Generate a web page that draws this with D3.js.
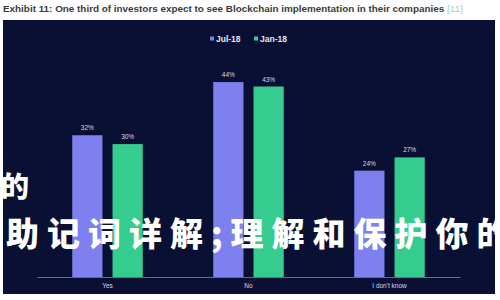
<!DOCTYPE html>
<html>
<head>
<meta charset="utf-8">
<style>
  body { margin: 0; background: #ffffff; }
  svg { display: block; }
</style>
</head>
<body>
<svg width="500" height="300"></svg>
<script src="https://cdn.jsdelivr.net/npm/d3@7"></script>
<script>
var categories = ["Yes", "No", "I don't know"];
var series = ["Jul-18", "Jan-18"];
var jul18 = [32, 44, 24];
var jan18 = [30, 43, 27];
var colors = ["#7f80f0", "#35cc8f"];

var svg = d3.select("svg");

// title strip
var title = svg.append("text")
    .attr("x", 3).attr("y", 12)
    .style("font-family", "Liberation Sans, Arial, sans-serif")
    .style("font-size", "9.9px")
    .style("font-weight", "bold")
    .style("fill", "#3a3a3a");
title.append("tspan").text("Exhibit 11: One third of investors expect to see Blockchain implementation in their companies ");
title.append("tspan").style("font-weight", "normal").style("fill", "#8fd9c9").text("[11]");

// dark panel
svg.append("rect")
    .attr("x", 3).attr("y", 20)
    .attr("width", 492).attr("height", 274)
    .style("fill", "#0a1034");

var x0 = d3.scaleBand().domain(categories).range([37, 460]);
var x1 = d3.scaleBand().domain(series)
    .range([x0.bandwidth() * 0.25, x0.bandwidth() * 0.75])
    .paddingInner(0.25);
var y = d3.scaleLinear().domain([0, 50]).range([277, 55.5]);

var rows = categories.map(function(c, i) {
  return { cat: c, vals: [jul18[i], jan18[i]] };
});

var groups = svg.selectAll(".grp").data(rows).enter().append("g")
    .classed("grp", true)
    .attr("transform", function(d) { return "translate(" + x0(d.cat) + ",0)"; });

var cells = groups.selectAll(".bar").data(function(d) {
  return d.vals.map(function(v, j) { return { s: series[j], v: v, j: j }; });
});
cells.enter().append("rect").classed("bar", true)
    .attr("x", function(d) { return x1(d.s); })
    .attr("y", function(d) { return y(d.v); })
    .attr("width", x1.bandwidth())
    .attr("height", function(d) { return y(0) - y(d.v); })
    .style("fill", function(d) { return colors[d.j]; });

groups.selectAll(".lbl").data(function(d) {
  return d.vals.map(function(v, j) { return { s: series[j], v: v }; });
}).enter().append("text").classed("lbl", true)
    .attr("x", function(d) { return x1(d.s) + x1.bandwidth() / 2; })
    .attr("y", function(d) { return y(d.v) - 5; })
    .attr("text-anchor", "middle")
    .style("font-family", "Liberation Sans, Arial, sans-serif")
    .style("font-size", "6.5px")
    .style("fill", "#d8dae6")
    .text(function(d) { return d.v + "%"; });

// axis
var axis = svg.append("g")
    .attr("transform", "translate(0," + y(0) + ")")
    .call(d3.axisBottom(x0).tickSize(0).tickPadding(6));
axis.select(".domain").style("stroke", "#7d829c").style("stroke-width", 0.8);
axis.selectAll("text")
    .style("font-family", "Liberation Sans, Arial, sans-serif")
    .style("font-size", "6.5px")
    .style("fill", "#d8dae6");

// legend
var legend = svg.selectAll(".leg").data(series).enter().append("g")
    .classed("leg", true)
    .attr("transform", function(d, i) { return "translate(" + (210 + i * 44) + ",39)"; });
legend.append("rect")
    .attr("x", 0).attr("y", -2.5).attr("width", 4).attr("height", 4)
    .style("fill", function(d, i) { return colors[i]; });
legend.append("text")
    .attr("x", 6).attr("y", 2.8)
    .style("font-family", "Liberation Sans, Arial, sans-serif")
    .style("font-size", "8.5px")
    .style("font-weight", "bold")
    .style("fill", "#e6e8f2")
    .text(function(d) { return d; });

// overlay text
var overlay = ["的", "助记词详解;理解和保护你的"];
svg.selectAll(".ov").data(overlay).enter().append("text")
    .classed("ov", true)
    .attr("x", function(d, i) { return i === 0 ? 1 : 6; })
    .attr("y", function(d, i) { return i === 0 ? 197 : 246; })
    .style("font-family", "Noto Sans CJK SC")
    .style("font-weight", 900)
    .style("font-size", function(d, i) { return i === 0 ? "28px" : "33px"; })
    .style("letter-spacing", function(d, i) { return i === 0 ? "0px" : "8px"; })
    .style("fill", "#ffffff")
    .text(function(d) { return d; });
</script>
</body>
</html>
